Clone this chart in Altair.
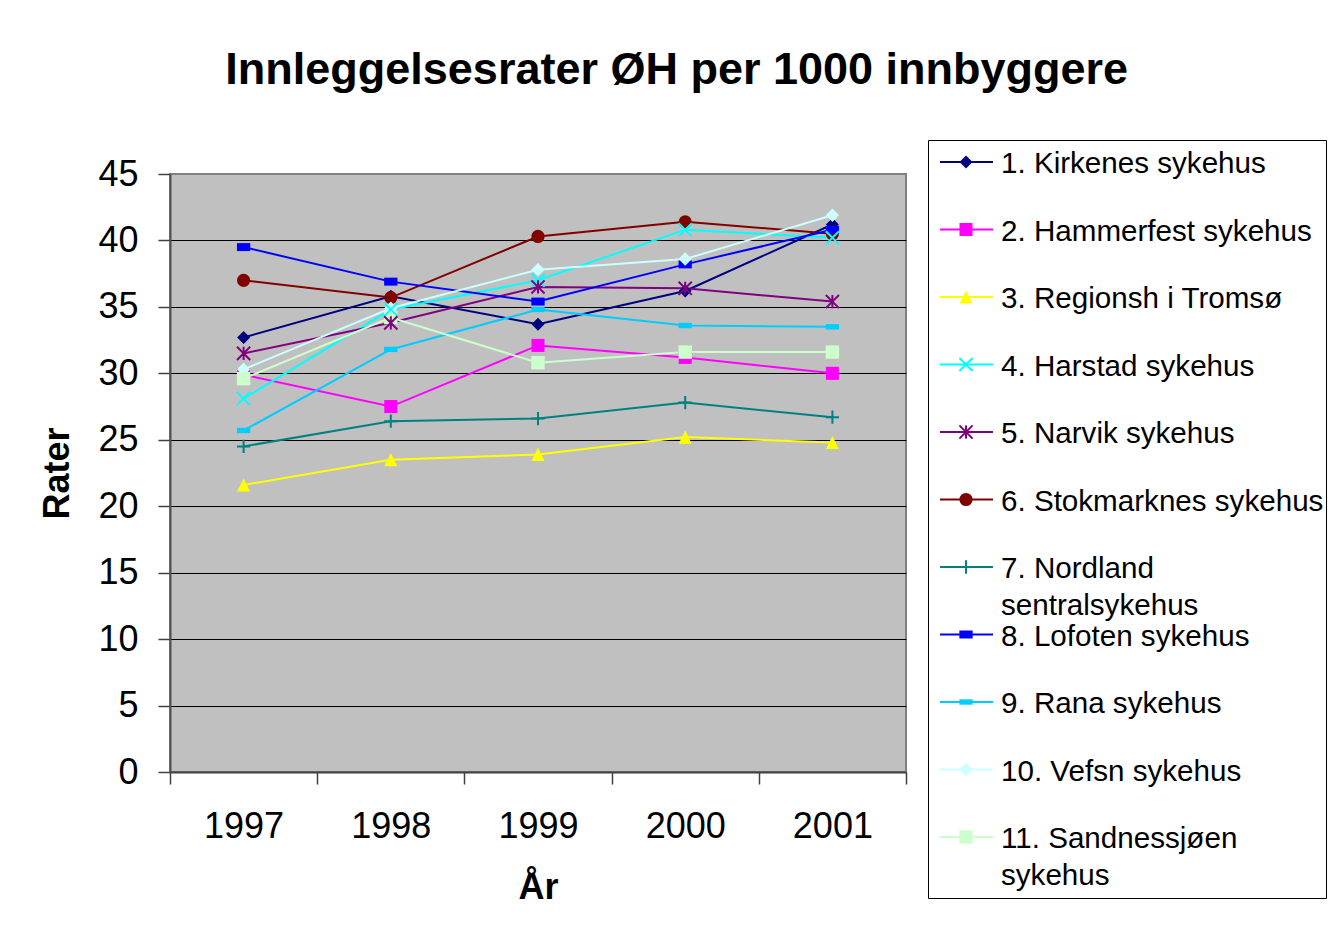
import altair as alt
import pandas as pd

years = ["1997", "1998", "1999", "2000", "2001"]
series = [
    "1. Kirkenes sykehus",
    "2. Hammerfest sykehus",
    "3. Regionsh i Tromsø",
    "4. Harstad sykehus",
    "5. Narvik sykehus",
    "6. Stokmarknes sykehus",
    "7. Nordland sentralsykehus",
    "8. Lofoten sykehus",
    "9. Rana sykehus",
    "10. Vefsn sykehus",
    "11. Sandnessjøen sykehus",
]
legend_labels = [
    "1. Kirkenes sykehus",
    "2. Hammerfest sykehus",
    "3. Regionsh i Tromsø",
    "4. Harstad sykehus",
    "5. Narvik sykehus",
    "6. Stokmarknes sykehus",
    "7. Nordland\nsentralsykehus",
    "8. Lofoten sykehus",
    "9. Rana sykehus",
    "10. Vefsn sykehus",
    "11. Sandnessjøen\nsykehus",
]
kirkenes = [32.7, 35.8, 33.7, 36.2, 41.2]
hammerfest = [29.9, 27.5, 32.1, 31.2, 30.0]
tromso = [21.6, 23.5, 23.9, 25.2, 24.8]
harstad = [28.1, 34.8, 37.0, 40.8, 40.2]
narvik = [31.5, 33.8, 36.5, 36.4, 35.4]
stokmarknes = [37.0, 35.7, 40.3, 41.4, 40.5]
nordland = [24.5, 26.4, 26.6, 27.8, 26.7]
lofoten = [39.5, 36.9, 35.4, 38.2, 40.8]
rana = [25.7, 31.8, 34.8, 33.6, 33.5]
vefsn = [30.3, 34.9, 37.8, 38.6, 41.9]
sandnessjoen = [29.6, 34.2, 30.8, 31.6, 31.6]
all_values = [kirkenes, hammerfest, tromso, harstad, narvik, stokmarknes,
              nordland, lofoten, rana, vefsn, sandnessjoen]

colors = ["#000080", "#FF00FF", "#FFFF00", "#00FFFF", "#800080", "#800000",
          "#008080", "#0000FF", "#00CCFF", "#CCFFFF", "#CCFFCC"]
shapes = [
    "M0,-1L1,0L0,1L-1,0Z",
    "square",
    "M0,-1L1,1L-1,1Z",
    "M-1,-1L1,1M-1,1L1,-1",
    "M-1,-1L1,1M-1,1L1,-1M0,-1L0,1",
    "circle",
    "M-1,0L1,0M0,-1L0,1",
    "M-1,-0.6L1,-0.6L1,0.6L-1,0.6Z",
    "M-1,-0.4L1,-0.4L1,0.4L-1,0.4Z",
    "M0,-1L1,0L0,1L-1,0Z",
    "square",
]
sizes = [169, 180, 169, 144, 144, 180, 120, 100, 196, 160, 185]
open_series = [series[3], series[4], series[6]]

rows = []
for s, vals in zip(series, all_values):
    for y, v in zip(years, vals):
        rows.append({"series": s, "year": y, "value": v})
df = pd.DataFrame(rows)

leg = pd.DataFrame({"series": series, "label": legend_labels})

FONT = "Liberation Sans"

color_scale = alt.Scale(domain=series, range=colors)
shape_scale = alt.Scale(domain=series, range=shapes)
size_scale = alt.Scale(domain=series, range=sizes)

x_enc = alt.X("year:O", scale=alt.Scale(type="band", domain=years, paddingInner=0, paddingOuter=0),
              axis=alt.Axis(title="År", labelAngle=0, labelFontSize=36, labelFont=FONT,
                            titleFontSize=36, titleFont=FONT, titleFontWeight="bold",
                            titleColor="black", labelColor="black",
                            tickBand="extent", tickSize=12, tickColor="#404040", tickWidth=1.5,
                            domainColor="#404040", domainWidth=2, labelPadding=25,
                            titlePadding=26, grid=False))
y_enc = alt.Y("value:Q", scale=alt.Scale(domain=[0, 45], nice=False),
              axis=alt.Axis(title="Rater", values=list(range(0, 50, 5)), labelFontSize=36,
                            labelFont=FONT, labelColor="black", titleFontSize=36, titleFont=FONT,
                            titleFontWeight="bold", titleColor="black", tickSize=12,
                            tickColor="#404040", tickWidth=1.5, domainColor="#505050",
                            domainWidth=2, labelPadding=20, titlePadding=21, grid=True,
                            gridColor={"condition": {"test": "datum.value === 45", "value": "#808080"},
                                       "value": "#000000"},
                            gridWidth=1))

base = alt.Chart(df)
lines = base.mark_line(strokeWidth=2).encode(
    x=x_enc, y=y_enc,
    color=alt.Color("series:N", scale=color_scale, legend=None),
    detail="series:N",
)
pts_filled = base.transform_filter(
    ~alt.FieldOneOfPredicate(field="series", oneOf=open_series)
).mark_point(filled=True, opacity=1, strokeWidth=0).encode(
    x="year:O", y="value:Q",
    fill=alt.Fill("series:N", scale=color_scale, legend=None),
    shape=alt.Shape("series:N", scale=shape_scale, legend=None),
    size=alt.Size("series:N", scale=size_scale, legend=None),
)
pts_open = base.transform_filter(
    alt.FieldOneOfPredicate(field="series", oneOf=open_series)
).mark_point(filled=False, opacity=1, strokeWidth=2).encode(
    x="year:O", y="value:Q",
    stroke=alt.Stroke("series:N", scale=color_scale, legend=None),
    shape=alt.Shape("series:N", scale=shape_scale, legend=None),
    size=alt.Size("series:N", scale=size_scale, legend=None),
)

main = alt.layer(lines, pts_filled, pts_open).properties(
    width=736, height=598,
    view=alt.ViewBackground(fill="#C0C0C0", stroke="#808080", strokeWidth=2),
)

spacer = alt.Chart(pd.DataFrame({"v": [0]})).mark_point(opacity=0).encode(
    x=alt.X("v:Q", axis=None), y=alt.Y("v:Q", axis=None)
).properties(width=10, height=1, view=alt.ViewBackground(stroke=None, fill=None))

left = alt.vconcat(spacer, main, spacing=11)

ly = alt.Y("series:N", scale=alt.Scale(type="point", domain=series, range=[22, 697], padding=0),
           axis=None)
lbase = alt.Chart(leg)
l_rule = lbase.mark_rule(strokeWidth=2).encode(
    x=alt.value(12), x2=alt.value(65), y=ly,
    color=alt.Color("series:N", scale=color_scale, legend=None),
)
l_pf = lbase.transform_filter(
    ~alt.FieldOneOfPredicate(field="series", oneOf=open_series)
).mark_point(filled=True, opacity=1, strokeWidth=0).encode(
    x=alt.value(38), y=ly,
    fill=alt.Fill("series:N", scale=color_scale, legend=None),
    shape=alt.Shape("series:N", scale=shape_scale, legend=None),
    size=alt.Size("series:N", scale=size_scale, legend=None),
)
l_po = lbase.transform_filter(
    alt.FieldOneOfPredicate(field="series", oneOf=open_series)
).mark_point(filled=False, opacity=1, strokeWidth=2).encode(
    x=alt.value(38), y=ly,
    stroke=alt.Stroke("series:N", scale=color_scale, legend=None),
    shape=alt.Shape("series:N", scale=shape_scale, legend=None),
    size=alt.Size("series:N", scale=size_scale, legend=None),
)
l_text = lbase.mark_text(align="left", baseline="alphabetic", dy=11, fontSize=29.6, font=FONT,
                         color="black", lineBreak="\n", lineHeight=37).encode(
    x=alt.value(73), y=ly, text="label:N",
)
legend_chart = alt.layer(l_rule, l_pf, l_po, l_text).properties(
    width=398, height=758,
    view=alt.ViewBackground(fill="white", stroke="black", strokeWidth=1),
)

chart = alt.hconcat(left, legend_chart, spacing=19).resolve_scale(
    color="independent", shape="independent", size="independent", y="independent",
    fill="independent", stroke="independent",
).properties(
    title=alt.TitleParams("Innleggelsesrater ØH per 1000 innbyggere", fontSize=45, font=FONT,
                          fontWeight="bold", color="black", anchor="middle", dx=-6, offset=45),
    padding={"left": 30, "top": 39, "right": 0, "bottom": 10},
).configure(font=FONT)

chart.save("out.html", embed_options={"renderer": "svg", "actions": False})
